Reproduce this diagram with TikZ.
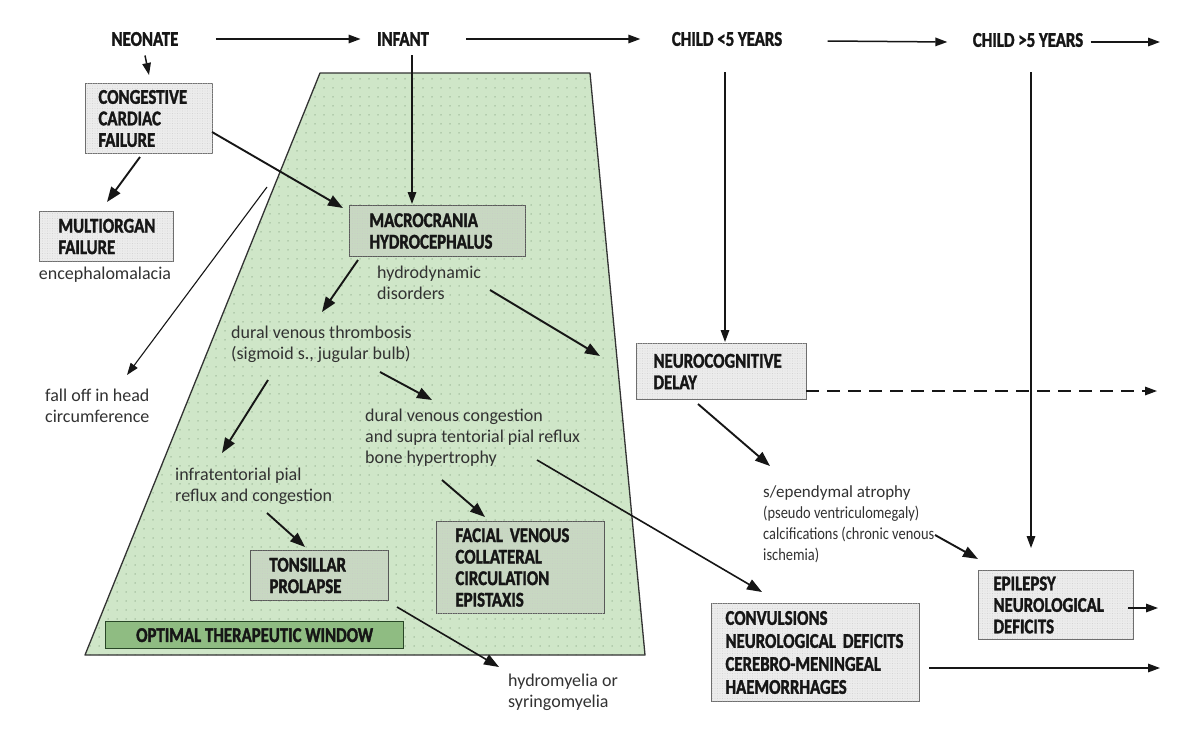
\documentclass[tikz,border=0pt]{standalone}
\usepackage{fontspec}
\setmainfont{Carlito}
\newfontfamily\capfont{Carlito}[FakeStretch=0.8,FakeBold=1.6]
\newfontfamily\narrowfont{Carlito}[FakeStretch=0.85]
\usetikzlibrary{arrows.meta,patterns.meta}
\definecolor{trapfill}{RGB}{207,230,200}
\definecolor{dotcol}{RGB}{150,178,145}
\definecolor{optfill}{RGB}{143,188,130}
\definecolor{optdraw}{RGB}{40,70,38}
\definecolor{boxfill}{RGB}{236,236,236}
\definecolor{inboxfill}{RGB}{200,216,194}
\definecolor{boxdraw}{RGB}{110,110,110}
\definecolor{grain}{RGB}{200,200,200}
\definecolor{txt}{RGB}{22,22,22}
\definecolor{ltxt}{RGB}{50,50,50}
\tikzset{
 capsty/.style={font=\capfont\bfseries\fontsize{21}{21.5}\selectfont, text=txt},
 box/.style={capsty, draw=boxdraw, line width=1pt, fill=boxfill, anchor=north west, align=left, inner ysep=0pt,
   postaction={pattern={Dots[distance=2.5pt,radius=0.4pt]}, pattern color=grain}},
 inbox/.style={box, fill=inboxfill, draw=boxdraw!80!black},
 optbox/.style={capsty, draw=optdraw, line width=1.3pt, fill=optfill, anchor=north west, align=center, inner sep=0pt},
 lower/.style={font=\fontsize{18}{21}\selectfont, text=ltxt, align=left, anchor=west, inner sep=0pt},
 arr/.style={-{Triangle[length=15pt,width=11pt]}, line width=1.9pt, draw=txt},
 tarr/.style={-{Triangle[length=12pt,width=8.5pt]}, line width=1.5pt, draw=txt},
}
\begin{document}
\begin{tikzpicture}[x=1pt,y=-1pt]
\useasboundingbox (0,0) rectangle (1180,736);
\fill[white] (0,0) rectangle (1180,736);

% trapezoid window
\fill[trapfill] (320,73) -- (590,73) -- (645,655) -- (85,655) -- cycle;
\fill[pattern={Dots[distance=9pt,radius=0.75pt]}, pattern color=dotcol] (320,73) -- (590,73) -- (645,655) -- (85,655) -- cycle;
\draw[line width=1.3pt, draw=black!80, line join=round] (320,73) -- (590,73) -- (645,655) -- (85,655) -- cycle;

% top labels
\node[capsty] (neo) at (145,39) {NEONATE};
\node[capsty] (inf) at (403,39) {INFANT};
\node[capsty] (c5) at (727,39) {CHILD <5 YEARS};
\node[capsty] (c5p) at (1028,40) {CHILD >5 YEARS};

% boxes
\node[box, minimum width=127pt, minimum height=70pt, text width=101pt, inner xsep=13pt] (ccf) at (85,83) {CONGESTIVE\\CARDIAC\\FAILURE};
\node[box, minimum width=134pt, minimum height=50pt, text width=96pt, inner xsep=19pt] (mof) at (39,211) {MULTIORGAN\\FAILURE};
\node[inbox, minimum width=176pt, minimum height=51pt, text width=136pt, inner xsep=20pt] (mac) at (349,205) {MACROCRANIA\\HYDROCEPHALUS};
\node[inbox, minimum width=138pt, minimum height=50pt, text width=100pt, inner xsep=19pt] (ton) at (250,550) {TONSILLAR\\PROLAPSE};
\node[inbox, minimum width=168pt, minimum height=92pt, text width=130pt, inner xsep=19pt] (fac) at (436,521) {FACIAL VENOUS\\COLLATERAL\\CIRCULATION\\EPISTAXIS};
\node[box, minimum width=170pt, minimum height=56pt, text width=136pt, inner xsep=17pt] (neu) at (636,343) {NEUROCOGNITIVE\\DELAY};
\node[box, minimum width=208pt, minimum height=98pt, text width=180pt, inner xsep=14pt, font=\capfont\bfseries\fontsize{21}{23}\selectfont] (con) at (711,603) {CONVULSIONS\\NEUROLOGICAL DEFICITS\\CEREBRO-MENINGEAL\\HAEMORRHAGES};
\node[box, minimum width=155pt, minimum height=69pt, text width=125pt, inner xsep=15pt] (epi) at (978,570) {EPILEPSY\\NEUROLOGICAL\\DEFICITS};
\node[optbox, minimum width=298pt, minimum height=27pt] (opt) at (105,621) {OPTIMAL THERAPEUTIC WINDOW};

% plain texts
\node[lower, anchor=center] (enc) at (105,275) {encephalomalacia};
\node[lower] (fall) at (45,406) {fall off in head\\circumference};
\node[lower] (hyd) at (377,283) {hydrodynamic\\disorders};
\node[lower] (thr) at (231,344) {dural venous thrombosis\\(sigmoid s., jugular bulb)};
\node[lower] (cng) at (365,438) {dural venous congestion\\and supra tentorial pial reflux\\bone hypertrophy};
\node[lower] (inft) at (175,486) {infratentorial pial\\reflux and congestion};
\node[lower] (hmy) at (508,692) {hydromyelia or\\syringomyelia};
\node[lower, font=\narrowfont\fontsize{17}{21}\selectfont] (sep) at (763,524) {{\rmfamily\fontsize{17}{21}\selectfont s/ependymal atrophy}\\(pseudo ventriculomegaly)\\calcifications (chronic venous\\ischemia)};

% connector end points
\coordinate (a1s) at (140,157); \coordinate (a1e) at (107,202);
\coordinate (a2s) at (212,132); \coordinate (a2e) at (343,208);
\coordinate (a3s) at (267,187); \coordinate (a3e) at (127,375);
\coordinate (a4s) at (358,260); \coordinate (a4e) at (322,312);
\coordinate (a5s) at (490,290); \coordinate (a5e) at (600,356);
\coordinate (a6s) at (380,372); \coordinate (a6e) at (432,400);
\coordinate (a7s) at (268,380); \coordinate (a7e) at (222,453);
\coordinate (a8s) at (267,513); \coordinate (a8e) at (305,547);
\coordinate (a9s) at (442,480); \coordinate (a9e) at (485,517);
\coordinate (a10s) at (397,607); \coordinate (a10e) at (499,667);
\coordinate (a11s) at (537,460); \coordinate (a11e) at (762,592);
\coordinate (a12s) at (698,404); \coordinate (a12e) at (770,466);
\coordinate (a13s) at (935,535); \coordinate (a13e) at (978,559);
\coordinate (dashs) at (806,391); \coordinate (dashe) at (1157,391);
\coordinate (epis) at (1128,608); \coordinate (epie) at (1158,608);
\coordinate (cons) at (929,668); \coordinate (cone) at (1160,668);
\coordinate (topend) at (1160,42);
\coordinate (infs) at (412,55); \coordinate (infe) at (412,204);
\coordinate (c5s) at (725,72); \coordinate (c5e) at (725,342);
\coordinate (c5ps) at (1031,72); \coordinate (c5pe) at (1031,548);

% top row arrows
\draw[tarr] ([xshift=34pt]neo.east) -- ([xshift=-13pt]inf.west);
\draw[tarr] ([xshift=34pt]inf.east) -- ([xshift=-28pt]c5.west);
\draw[tarr] ([xshift=42pt,yshift=-2pt]c5.east) -- ([xshift=-22pt,yshift=-2pt]c5p.west);
\draw[tarr] ([xshift=4pt,yshift=-2pt]c5p.east) -- (topend);

% vertical arrows
\draw[tarr] ([yshift=-6pt]neo.south) -- ([yshift=8pt]ccf.north);
\draw[tarr] (infs) -- (infe);
\draw[tarr] (c5s) -- (c5e);
\draw[tarr] (c5ps) -- (c5pe);

% diagonal arrows
\draw[arr] (a1s) -- (a1e);
\draw[arr] (a2s) -- (a2e);
\draw[tarr, line width=1.1pt] (a3s) -- (a3e);
\draw[arr] (a4s) -- (a4e);
\draw[arr] (a5s) -- (a5e);
\draw[arr] (a6s) -- (a6e);
\draw[arr] (a7s) -- (a7e);
\draw[arr] (a8s) -- (a8e);
\draw[arr] (a9s) -- (a9e);
\draw[arr, line width=1.6pt] (a10s) -- (a10e);
\draw[arr, line width=1.6pt] (a11s) -- (a11e);
\draw[arr] (a12s) -- (a12e);
\draw[arr] (a13s) -- (a13e);

% right side arrows
\draw[tarr, dash pattern=on 13pt off 8pt] (dashs) -- (dashe);
\draw[tarr] (epis) -- (epie);
\draw[tarr] (cons) -- (cone);
\end{tikzpicture}
\end{document}
